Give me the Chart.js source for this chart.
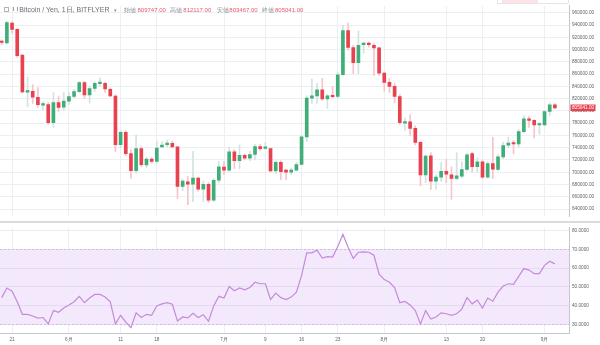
<!DOCTYPE html>
<html>
<head>
<meta charset="utf-8">
<script src="https://cdn.jsdelivr.net/npm/chart.js@4.4.1/dist/chart.umd.min.js"></script>
<style>
  body { margin: 0; width: 600px; height: 345px; overflow: hidden; position: relative; background: #fff;
         font-family: "Liberation Sans", Arial, sans-serif; }
  canvas { position: absolute; left: 0; }
  #priceChart { top: 0; }
  #rsiChart { top: 222px; }
  #sep { position: absolute; left: 0; top: 221px; width: 600px; height: 2px; background: #d8dbde; }
  .hd { position: absolute; top: 6px; white-space: nowrap; line-height: 8px; }
  .ttl { font-size: 7px; color: #6a6d74; }
  .lbl { font-size: 6px; color: #8a8d93; }
  .val { font-size: 6px; color: #e85a69; }
  #ico1 { position: absolute; left: 4px; top: 7px; width: 3px; height: 3px; border: 1px solid #b0b3b8; }
  #ico2 { position: absolute; left: 13px; top: 7px; width: 3px; height: 4px; border-left: 1px solid #9a9da3; border-right: 1px solid #9a9da3; }
  #box { position: absolute; left: 497px; top: -5px; width: 70px; height: 7px; border: 1px solid #e4e6e8; }
  #box span { position: absolute; left: 4px; top: 4px; width: 36px; height: 3px; background: #fbe3e6; }
</style>
</head>
<body>
<canvas id="priceChart" width="600" height="222"></canvas>
<canvas id="rsiChart" width="600" height="123"></canvas>
<div id="sep"></div>
<div id="box"><span></span></div>
<div id="ico1"></div><div id="ico2"></div>
<div class="hd ttl" style="left:19.3px">Bitcoin / Yen, 1日, BITFLYER</div>
<div class="hd lbl" style="left:114px;font-size:5px">▾</div>
<div class="hd lbl" style="left:124px">始値</div><div class="hd val" id="vO" style="left:137.5px"></div>
<div class="hd lbl" style="left:170px">高値</div><div class="hd val" id="vH" style="left:183.3px"></div>
<div class="hd lbl" style="left:216.5px">安値</div><div class="hd val" id="vL" style="left:229.3px"></div>
<div class="hd lbl" style="left:261.7px">終値</div><div class="hd val" id="vC" style="left:275px"></div>
<script>
// Dzienne świece BTC/JPY (19.05 – 03.09), indeks = dzień
const OPEN = [
  913000, 911000, 943000, 933000, 891000, 830500, 832000, 822000, 809500, 810500,
  781000, 813500, 806000, 816000, 823500, 831500, 846000, 826000, 836500, 844500,
  845000, 835000, 824000, 745000, 765000, 730500, 702500, 738500, 712000, 721500,
  717500, 741500, 745000, 747000, 741500, 677000, 684500, 680500, 690500, 672500,
  680500, 654500, 687000, 708500, 703500, 733300, 719000, 727500, 723000, 729000,
  742000, 739000, 738500, 702000, 716300, 703500, 700000, 703500, 712700, 757600,
  820900, 824500, 834300, 819400, 824500, 823500, 859000, 931000, 903300, 878600,
  908000, 909500, 907000, 902800, 861600, 846600, 840000, 823500, 780000, 782300,
  771500, 748800, 695800, 726700, 685500, 692200, 701400, 696000, 690000, 693500,
  704500, 730500, 709000, 717000, 692000, 714000, 704500, 725000, 744000, 747500,
  746000, 766300, 787000, 784500, 777000, 777000, 799000, 809747
];
const HIGH = [
  916000, 946000, 945500, 934000, 892000, 855000, 843000, 838000, 815000, 814000,
  830000, 824000, 830000, 829700, 835000, 847700, 848000, 840000, 847700, 854000,
  847000, 837000, 826000, 768000, 768000, 737000, 761000, 742000, 724000, 724000,
  751000, 750000, 752000, 751000, 742000, 689000, 693000, 734000, 692000, 685500,
  683000, 690600, 718000, 718000, 740500, 737000, 744700, 730000, 734000, 745700,
  745700, 748800, 739500, 719000, 719000, 705000, 707000, 716000, 760000, 824500,
  852000, 845000, 853000, 827000, 840000, 863000, 940000, 943000, 907000, 930000,
  912000, 912000, 910500, 904000, 863000, 852800, 845000, 827000, 788500, 793600,
  775600, 750000, 729000, 732000, 695800, 716000, 721000, 709000, 732000, 717000,
  731000, 733000, 724000, 719000, 718000, 757000, 729000, 749000, 757000, 752000,
  770000, 792000, 791000, 786000, 781000, 801000, 813000, 812117
];
const LOW = [
  908000, 909000, 926500, 887000, 829000, 807000, 812000, 806000, 801000, 778000,
  773000, 799000, 801000, 810600, 821000, 829700, 820000, 813000, 832000, 840000,
  830000, 823000, 733000, 740000, 727000, 690000, 698000, 709000, 707000, 715000,
  714000, 740000, 741500, 740000, 657000, 670000, 647000, 652000, 669000, 652000,
  651000, 652000, 683000, 696000, 701000, 706000, 706000, 720000, 719000, 720000,
  735000, 737000, 700000, 698000, 688000, 688000, 696000, 702000, 711000, 750000,
  812000, 812700, 816800, 804000, 821000, 821000, 858000, 899000, 860500, 860500,
  894000, 904000, 858000, 858000, 832000, 829600, 814000, 778000, 768000, 760000,
  744700, 678000, 683000, 672000, 672600, 685000, 683000, 656000, 688000, 691000,
  702000, 700000, 700000, 690000, 690000, 690000, 702000, 722000, 740000, 730000,
  740000, 764000, 773000, 756000, 762000, 776000, 792000, 803467
];
const CLOSE = [
  911500, 944000, 933000, 890000, 831000, 832500, 822500, 810000, 810500, 781000,
  813500, 805500, 816000, 823500, 831500, 846000, 826000, 836500, 845000, 845500,
  836000, 824500, 745000, 765000, 730500, 702500, 738500, 712500, 721500, 717500,
  739500, 744500, 747000, 741500, 677000, 685500, 680500, 690500, 672500, 680300,
  654500, 687000, 708700, 703500, 733300, 719000, 727500, 723000, 729000, 742000,
  738500, 740000, 702000, 716300, 701000, 700000, 703500, 712700, 757600, 820900,
  824500, 834300, 819400, 824500, 823000, 859000, 931000, 903300, 878600, 906900,
  909500, 908000, 902800, 861600, 846600, 840000, 823500, 780700, 781700, 771500,
  748800, 695800, 726500, 685500, 692200, 701400, 697000, 690000, 694000, 704500,
  728500, 709000, 717000, 692000, 714000, 705000, 725000, 743500, 747500, 746000,
  766300, 787000, 784500, 777000, 778000, 799000, 809700, 805041
];
// RSI (14)
const RSI = [
  44.3, 49.4, 47.7, 42.1, 35.4, 35.4, 34.5, 33.4, 33.7, 30.3,
  37.4, 36.5, 38.8, 40.4, 42.1, 45.0, 41.6, 44.1, 46.0, 46.0,
  44.6, 42.1, 30.3, 34.9, 31.2, 28.3, 36.2, 33.7, 35.4, 34.9,
  39.9, 41.0, 41.6, 40.8, 31.8, 34.0, 33.5, 35.9, 33.7, 35.2,
  31.7, 39.9, 45.0, 44.1, 50.2, 48.0, 49.5, 48.5, 49.7, 52.5,
  51.7, 51.7, 43.3, 46.7, 44.3, 43.3, 44.6, 47.2, 56.0, 68.2,
  68.2, 69.6, 65.4, 66.2, 65.9, 71.6, 78.0, 71.2, 65.2, 68.5,
  68.7, 68.5, 66.9, 56.8, 53.9, 52.5, 49.7, 41.6, 42.3, 40.4,
  37.4, 30.3, 37.4, 32.9, 34.0, 36.2, 35.7, 34.9, 35.7, 38.2,
  44.3, 41.0, 43.0, 38.8, 44.1, 42.4, 47.2, 50.5, 51.7, 51.4,
  55.6, 59.8, 59.0, 57.1, 57.1, 61.5, 63.7, 62.3
];
const RSI_BAND = [30, 70];
const RSI_TICKS = [30, 40, 50, 60, 70, 80];
const PRICE_TICKS = [640000, 660000, 680000, 700000, 720000, 740000, 760000, 780000, 800000,
  820000, 840000, 860000, 880000, 900000, 920000, 940000, 960000];
const X_TICK_IDX = [2, 13, 23, 30, 43, 51, 58, 65, 74, 86, 93, 105];
const X_TICK_TEXT = ["21", "6月", "11", "18", "7月", "9", "16", "23", "8月", "13", "20", "9月"];

const UP = "#41ad79", DOWN = "#e8414f";
const UP_WICK = "#d3e2e2", DOWN_WICK = "#f5c5cc";
const GRID = "#edf0f3";
const AXIS_LINE = "#c4c8cc";
const AXIS_TXT = "#5f6368";
const FONT = { size: 4.7, family: '"Liberation Sans", Arial, sans-serif' };
const X_MIN = -0.33, X_MAX = 109.73;

// nagłówek z wartościami ostatniej świecy
const last = CLOSE.length - 1;
document.getElementById("vO").innerText = OPEN[last].toFixed(2);
document.getElementById("vH").innerText = HIGH[last].toFixed(2);
document.getElementById("vL").innerText = LOW[last].toFixed(2);
document.getElementById("vC").innerText = CLOSE[last].toFixed(2);

const isUp = CLOSE.map((c, i) => c >= OPEN[i]);

// etykieta ostatniej ceny na osi
const lastPriceTag = {
  id: "lastPriceTag",
  afterDraw(chart) {
    const ctx = chart.ctx;
    const y = chart.scales.y.getPixelForValue(CLOSE[last]);
    const x = chart.chartArea.right + 1.5;
    ctx.save();
    ctx.fillStyle = isUp[last] ? UP : DOWN;
    ctx.fillRect(x, y - 3.3, 25, 6.6);
    ctx.fillStyle = "#fff";
    ctx.font = FONT.size + "px " + FONT.family;
    ctx.textBaseline = "middle";
    ctx.fillText(CLOSE[last].toFixed(2), x + 1.5, y + 0.3);
    ctx.restore();
  },
};

// pasmo RSI 30-70
const rsiBand = {
  id: "rsiBand",
  beforeDraw(chart) {
    const { ctx, chartArea: a, scales } = chart;
    const top = scales.y.getPixelForValue(RSI_BAND[1]);
    const bot = scales.y.getPixelForValue(RSI_BAND[0]);
    ctx.save();
    ctx.fillStyle = "#f4e8fd";
    ctx.fillRect(a.left, top, a.right - a.left, bot - top);
    ctx.restore();
  },
  beforeDatasetsDraw(chart) {
    const { ctx, chartArea: a, scales } = chart;
    ctx.save();
    ctx.strokeStyle = "#d6b9e6";
    ctx.lineWidth = 1;
    ctx.setLineDash([2, 2]);
    RSI_BAND.forEach((v) => {
      const y = Math.round(scales.y.getPixelForValue(v)) + 0.5;
      ctx.beginPath();
      ctx.moveTo(a.left, y);
      ctx.lineTo(a.right, y);
      ctx.stroke();
    });
    ctx.restore();
  },
};

function xAxis(showLabels) {
  return {
    type: "linear",
    min: X_MIN,
    max: X_MAX,
    offset: false,
    afterBuildTicks: (s) => { s.ticks = X_TICK_IDX.map((v) => ({ value: v })); },
    afterFit: (s) => { s.height = showLabels ? 12 : 0; },
    ticks: {
      display: showLabels,
      autoSkip: false,
      maxRotation: 0,
      padding: 4,
      font: FONT,
      color: AXIS_TXT,
      callback: (v) => X_TICK_TEXT[X_TICK_IDX.indexOf(v)],
    },
    grid: { color: GRID, drawTicks: false, offset: false },
    border: { display: showLabels, color: AXIS_LINE },
  };
}

function yAxis(min, max, ticks, digits, gridColor) {
  return {
    position: "right",
    min: min,
    max: max,
    afterBuildTicks: (s) => { s.ticks = ticks.map((v) => ({ value: v })); },
    afterFit: (s) => { s.width = 31; },
    ticks: { autoSkip: false, padding: 3, font: FONT, color: AXIS_TXT, callback: (v) => v.toFixed(digits) },
    grid: { color: gridColor, drawTicks: false },
    border: { color: AXIS_LINE },
  };
}

new Chart(document.getElementById("priceChart"), {
  type: "bar",
  data: {
    datasets: [
      {
        label: "body",
        data: OPEN.map((o, i) => ({ x: i, y: [Math.min(o, CLOSE[i]), Math.max(o, CLOSE[i])] })),
        backgroundColor: isUp.map((u) => (u ? UP : DOWN)),
        barThickness: 3,
        minBarLength: 1.5,
        grouped: false,
        order: 0,
      },
      {
        label: "wick",
        data: HIGH.map((h, i) => ({ x: i, y: [LOW[i], h] })),
        backgroundColor: isUp.map((u) => (u ? UP_WICK : DOWN_WICK)),
        barThickness: 1,
        grouped: false,
        order: 1,
      },
    ],
  },
  options: {
    responsive: false,
    animation: false,
    plugins: { legend: { display: false }, tooltip: { enabled: false } },
    scales: {
      x: xAxis(false),
      y: yAxis(628416, 971274, PRICE_TICKS, 2, GRID),
    },
  },
  plugins: [lastPriceTag],
});

new Chart(document.getElementById("rsiChart"), {
  type: "line",
  data: {
    datasets: [
      {
        label: "RSI",
        data: RSI.map((v, i) => ({ x: i, y: v })),
        borderColor: "#c48bd8",
        borderWidth: 1.2,
        pointRadius: 0,
        tension: 0,
        fill: false,
      },
    ],
  },
  options: {
    responsive: false,
    animation: false,
    plugins: { legend: { display: false }, tooltip: { enabled: false } },
    scales: {
      x: xAxis(true),
      y: yAxis(25.45, 81.52, RSI_TICKS, 4, "rgba(200,195,215,0.35)"),
    },
  },
  plugins: [rsiBand],
});
</script>
</body>
</html>
